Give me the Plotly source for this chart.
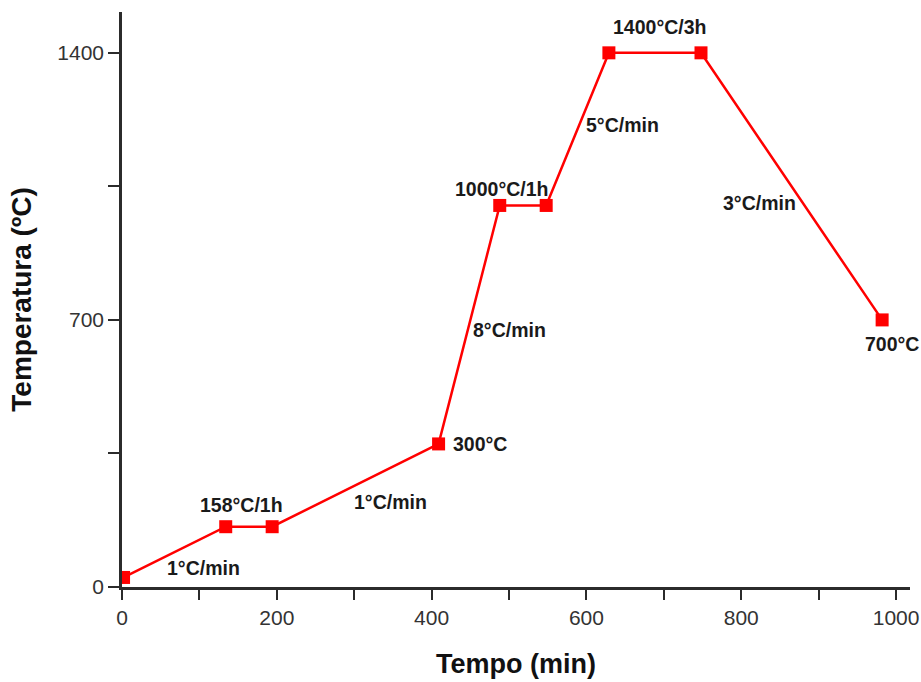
import plotly.graph_objects as go

# Data
time_min = [2, 134, 194, 409, 488, 548, 629, 748, 982]
temp_c = [25, 158, 158, 375, 1000, 1000, 1400, 1400, 700]

label_text = ["1°C/min", "158°C/1h", "1°C/min", "300°C", "8°C/min",
              "1000°C/1h", "5°C/min", "1400°C/3h", "3°C/min", "700°C"]
label_x = [105, 155, 347, 463, 501, 490, 647, 694, 823, 995]
label_y = [50, 215, 223, 375, 674, 1044, 1211, 1468, 1007, 638]

x_ticks = [0, 200, 400, 600, 800, 1000]
y_ticks = [0, 700, 1400]

AXIS = "#2b2b2b"
FONT = "Liberation Sans, Arial, sans-serif"

fig = go.Figure()
fig.add_trace(go.Scatter(
    x=time_min, y=temp_c, mode="lines+markers",
    line=dict(color="#ff0000", width=2.5),
    marker=dict(symbol="square", size=13, color="#ff0000"),
    showlegend=False, hoverinfo="skip",
))

for t, x, y in zip(label_text, label_x, label_y):
    fig.add_annotation(x=x, y=y, text=f"<b>{t}</b>", showarrow=False,
                       font=dict(family=FONT, size=19.5, color="#1a1a1a"),
                       xanchor="center", yanchor="middle")

fig.update_layout(
    width=921, height=682,
    margin=dict(l=122, r=11, t=12, b=95, autoexpand=False),
    paper_bgcolor="white", plot_bgcolor="white",
    font=dict(family=FONT, color="#333333"),
)
fig.update_xaxes(
    range=[0, 1018], tickvals=x_ticks, ticktext=[str(v) for v in x_ticks],
    showgrid=False, zeroline=False, showline=True, linecolor=AXIS, linewidth=2.5,
    ticks="outside", ticklen=10, tickwidth=2, tickcolor=AXIS,
    minor=dict(dtick=100, tick0=0, ticks="outside", ticklen=10, tickwidth=2, tickcolor=AXIS, showgrid=False),
    tickfont=dict(size=21, color="#333333"), automargin=False,
    title=dict(text="<b>Tempo (min)</b>", font=dict(size=27, color="#111111"), standoff=27),
)
fig.update_yaxes(
    range=[0, 1507], tickvals=y_ticks, ticktext=[str(v) for v in y_ticks],
    showgrid=False, zeroline=False, showline=True, linecolor=AXIS, linewidth=2.5,
    ticks="outside", ticklen=11, tickwidth=2, tickcolor=AXIS,
    minor=dict(tickvals=[350, 1050], ticks="outside", ticklen=11, tickwidth=2, tickcolor=AXIS, showgrid=False),
    tickfont=dict(size=21, color="#333333"), automargin=False,
    title=dict(text="<b>Temperatura (ºC)</b>", font=dict(size=28, color="#111111"), standoff=18),
)

fig.write_html(
    "out.html",
    config={"displayModeBar": False},
    post_script="document.body.style.margin='0';document.body.style.overflow='hidden';"
                "document.documentElement.style.overflow='hidden';",
)
